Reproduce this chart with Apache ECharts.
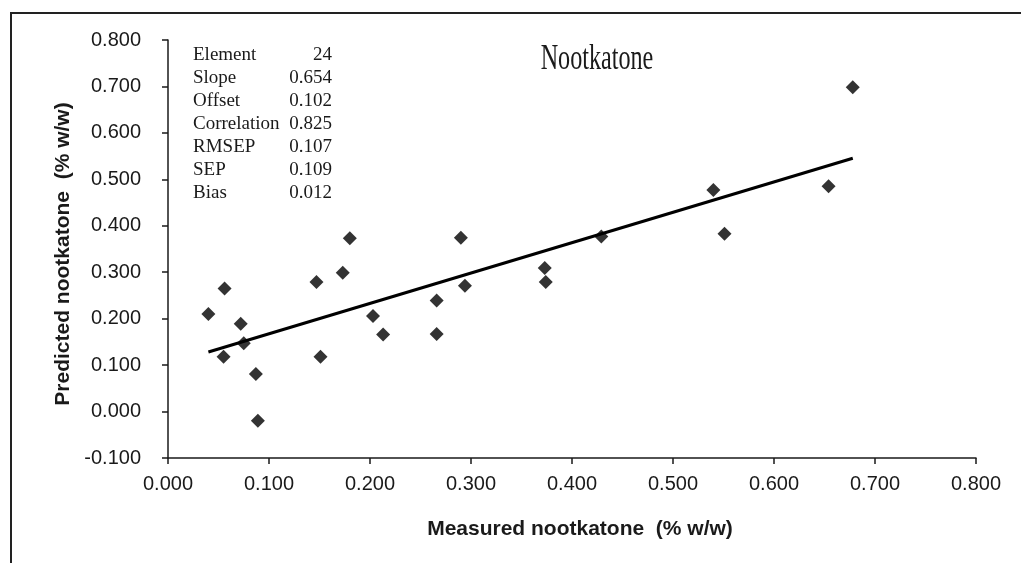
<!DOCTYPE html>
<html>
<head>
<meta charset="utf-8">
<title>Nootkatone</title>
<script src="https://cdn.jsdelivr.net/npm/echarts@6/dist/echarts.min.js"></script>
<style>
  html, body { margin: 0; padding: 0; background: #fff; }
  #chart { width: 1021px; height: 563px; }
</style>
</head>
<body>
<div id="chart"></div>
<script>
// Measured vs predicted nootkatone content (% w/w), one entry per sample
const measured = [0.040, 0.056, 0.055, 0.072, 0.075, 0.087, 0.089, 0.147, 0.151, 0.173, 0.180, 0.203,
                  0.213, 0.266, 0.266, 0.290, 0.294, 0.373, 0.374, 0.429, 0.540, 0.551, 0.654, 0.678];
const predicted = [0.210, 0.265, 0.118, 0.189, 0.147, 0.081, -0.020, 0.279, 0.118, 0.299, 0.373, 0.206,
                   0.166, 0.239, 0.167, 0.374, 0.271, 0.309, 0.279, 0.377, 0.477, 0.383, 0.485, 0.698];

// Calibration statistics shown in the corner box
const statNames = ['Element', 'Slope', 'Offset', 'Correlation', 'RMSEP', 'SEP', 'Bias'];
const statValues = ['24', '0.654', '0.102', '0.825', '0.107', '0.109', '0.012'];
const slope = 0.654;
const offset = 0.102;

const xTicks = { min: 0, max: 0.8, step: 0.1 };
const yTicks = { min: -0.1, max: 0.8, step: 0.1 };

const chartTitle = 'Nootkatone';
const xTitle = 'Measured nootkatone  (% w/w)';
const yTitle = 'Predicted nootkatone  (% w/w)';

const points = measured.map((x, i) => [x, predicted[i]]);
const xLo = Math.min(...measured), xHi = Math.max(...measured);
const fitLine = [[xLo, slope * xLo + offset], [xHi, slope * xHi + offset]];

const ink = '#1a1a1a';
const sans = '"Liberation Sans", Arial, sans-serif';
const serif = '"Liberation Serif", "Times New Roman", serif';

const statGraphics = [];
statNames.forEach((name, i) => {
  const y = 55 + i * 23;
  statGraphics.push({
    type: 'text', x: 193, y: y, z: 10,
    style: { text: name, font: '19px ' + serif, fill: ink, align: 'left', verticalAlign: 'middle' }
  });
  statGraphics.push({
    type: 'text', x: 332, y: y, z: 10,
    style: { text: statValues[i], font: '19px ' + serif, fill: ink, align: 'right', verticalAlign: 'middle' }
  });
});

const chart = echarts.init(document.getElementById('chart'), null, { renderer: 'canvas' });
chart.setOption({
  animation: false,
  backgroundColor: '#ffffff',
  grid: { left: 168, right: 45, top: 40, bottom: 105, containLabel: false },
  xAxis: {
    type: 'value', min: xTicks.min, max: xTicks.max, interval: xTicks.step,
    axisLine: { show: true, onZero: false, lineStyle: { color: ink, width: 1.5 } },
    axisTick: { show: true, inside: false, length: 6, lineStyle: { color: ink, width: 1.5 } },
    splitLine: { show: false },
    axisLabel: { margin: 16, color: ink, fontFamily: sans, fontSize: 20, formatter: v => v.toFixed(3) }
  },
  yAxis: {
    type: 'value', min: yTicks.min, max: yTicks.max, interval: yTicks.step,
    axisLine: { show: true, onZero: false, lineStyle: { color: ink, width: 1.5 } },
    axisTick: { show: true, inside: false, length: 6, lineStyle: { color: ink, width: 1.5 } },
    splitLine: { show: false },
    axisLabel: { margin: 27, color: ink, fontFamily: sans, fontSize: 20,
                 formatter: v => (Math.abs(v) < 1e-9 ? 0 : v).toFixed(3) }
  },
  series: [
    {
      type: 'line', data: fitLine, symbol: 'none', z: 2,
      lineStyle: { color: '#000', width: 3 }
    },
    {
      type: 'scatter', data: points, symbol: 'diamond', symbolSize: 14, z: 3,
      itemStyle: { color: '#000' }
    }
  ],
  graphic: [
    {
      type: 'rect', shape: { x: 11, y: 13, width: 1200, height: 700 }, silent: true, z: -1,
      style: { fill: 'none', stroke: '#222', lineWidth: 2 }
    },
    {
      type: 'text', x: 597, y: 60, scaleX: 0.69, originX: 0, originY: 0, z: 10,
      style: { text: chartTitle, font: '35px ' + serif, fill: ink, align: 'center', verticalAlign: 'middle' }
    },
    {
      type: 'text', x: 580, y: 529, z: 10,
      style: { text: xTitle, font: 'bold 21px ' + sans, fill: ink, align: 'center', verticalAlign: 'middle' }
    },
    {
      type: 'text', x: 63, y: 254, rotation: Math.PI / 2, z: 10,
      style: { text: yTitle, font: 'bold 21px ' + sans, fill: ink, align: 'center', verticalAlign: 'middle' }
    }
  ].concat(statGraphics)
});
</script>
</body>
</html>
